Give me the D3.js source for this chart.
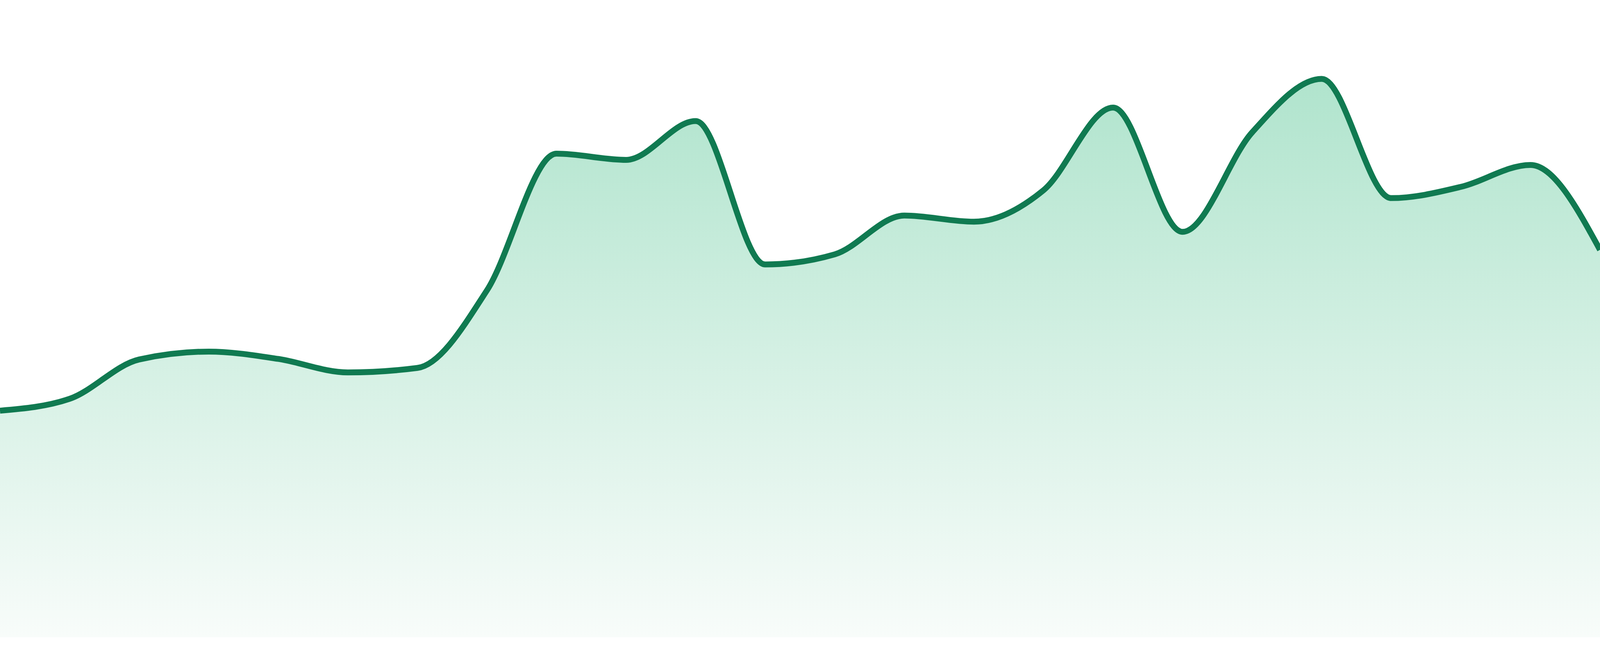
<!DOCTYPE html>
<html>
<head>
<meta charset="utf-8">
<script src="https://cdn.jsdelivr.net/npm/d3@7"></script>
<style>
  html, body { margin: 0; padding: 0; background: #ffffff; overflow: hidden; width: 100%; height: 100%; }
  svg { display: block; }
</style>
</head>
<body>
<svg id="chart"></svg>
<script>
// Data (24 evenly spaced samples)
const categories = d3.range(24).map(i => "P" + (i + 1));
const values = [40.3, 42.4, 49.4, 50.8, 49.5, 47.1, 47.9, 61.7, 86.0, 84.9, 91.8, 66.3,
                68.1, 75.0, 73.9, 79.5, 94.2, 72.1, 89.8, 99.3, 78.1, 80.1, 84.0, 68.9];
const yDomain = [0, 100];

// Fill the page the browser actually gives us
const W = window.innerWidth || 4800;
const H = window.innerHeight || 1680;
const k = H / 1680;
const margin = { top: 192 * k, right: 0, bottom: 48 * k, left: 0 };

const svg = d3.select("#chart").attr("width", W).attr("height", H);

const x = d3.scalePoint()
  .domain(categories)
  .range([margin.left, W - margin.right]);

const y = d3.scaleLinear()
  .domain(yDomain)
  .range([H - margin.bottom, margin.top]);

const data = categories.map((c, i) => ({ c, v: values[i] }));

const defs = svg.append("defs");
const grad = defs.append("linearGradient")
  .attr("id", "fillGrad")
  .attr("gradientUnits", "userSpaceOnUse")
  .attr("x1", 0).attr("x2", 0)
  .attr("y1", y(d3.max(values)))
  .attr("y2", y(0));
grad.append("stop").attr("offset", "0%").attr("stop-color", "#b0e4cd");
grad.append("stop").attr("offset", "100%").attr("stop-color", "#f8fcfa");

const area = d3.area()
  .x(d => x(d.c))
  .y0(y(0))
  .y1(d => y(d.v))
  .curve(d3.curveMonotoneX);

const line = d3.line()
  .x(d => x(d.c))
  .y(d => y(d.v))
  .curve(d3.curveMonotoneX);

svg.append("path")
  .datum(data)
  .attr("d", area)
  .attr("fill", "url(#fillGrad)");

svg.append("path")
  .datum(data)
  .attr("d", line)
  .attr("fill", "none")
  .attr("stroke", "#107a51")
  .attr("stroke-width", 15 * k)
  .attr("stroke-linejoin", "round");
</script>
</body>
</html>
